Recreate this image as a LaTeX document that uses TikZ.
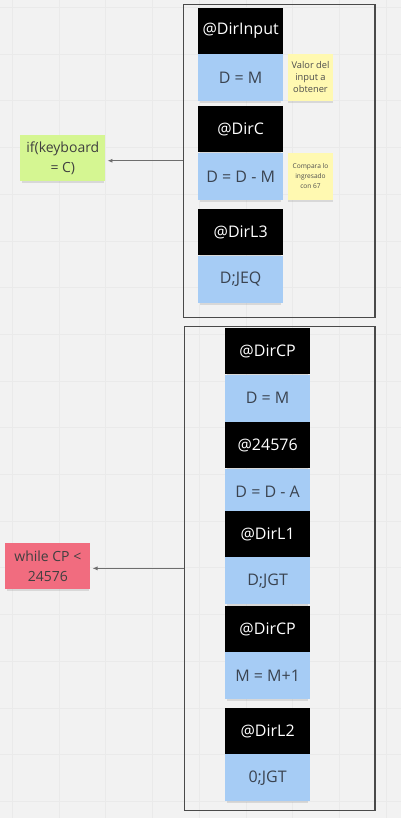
\documentclass[tikz,border=0pt]{standalone}
\usepackage{fontspec}
\setmainfont{Open Sans}
\usetikzlibrary{positioning, arrows.meta, shadows}
\definecolor{board}{HTML}{F2F2F2}
\definecolor{gridline}{HTML}{EAEAEA}
\definecolor{noteblue}{HTML}{A6CCF5}
\definecolor{noteyellow}{HTML}{FFF9B1}
\definecolor{notegreen}{HTML}{D5F692}
\definecolor{notered}{HTML}{F16C7F}
\definecolor{inktext}{HTML}{3A4350}
\definecolor{framegray}{HTML}{4A4A4A}
\definecolor{arrowgray}{HTML}{6E6E6E}

\begin{document}
\begin{tikzpicture}[x=1pt, y=-1pt,
  sticky/.style={inner sep=0pt, align=center, text=inktext,
    drop shadow={opacity=0.22, shadow xshift=0pt, shadow yshift=-3pt, shadow scale=0.96}},
  tag/.style={sticky, fill=black, text=white, minimum width=85pt, minimum height=46pt,
    font=\fontsize{16}{18}\selectfont},
  code/.style={sticky, fill=noteblue, minimum width=85pt, minimum height=47pt,
    font=\fontsize{16}{18}\selectfont},
  memo/.style={sticky, fill=noteyellow, text=black!70, minimum width=46pt, minimum height=47pt},
  cond/.style={sticky, text=black!75, minimum width=85pt, minimum height=46pt,
    font=\fontsize{14}{20}\selectfont},
  box/.style={draw=framegray, line width=1.1pt},
  link/.style={draw=arrowgray, line width=0.8pt, -{Latex[length=5pt,width=4pt]}, shorten >=2pt}]

  % board and grid
  \fill[board] (0,0) rectangle (401,818);
  \foreach \k in {0,...,8}{
    \draw[gridline, line width=0.8pt] ({12+46.75*\k},0) -- ({12+46.75*\k},818);
  };
  \foreach \k in {0,...,17}{
    \draw[gridline, line width=0.8pt] (0,{7+46.75*\k}) -- (401,{7+46.75*\k});
  };

  % frames
  \node[box, minimum width=192pt, minimum height=313pt] (frameA) at (279,160.5) {};
  \node[box, minimum width=191pt, minimum height=485pt] (frameB) at (279.5,568.5) {};

  % first frame
  \node[tag, anchor=north] (dirinput) at (240.5,7) {@DirInput};
  \node[code, below=0pt of dirinput] (loadm) {D = M};
  \node[tag, anchor=north] (dirc) at (240.5,106) {@DirC};
  \node[code, below=0pt of dirc] (subm) {D = D - M};
  \node[tag, anchor=north] (dirlthree) at (240.5,209) {@DirL3};
  \node[code, below=0pt of dirlthree] (jeq) {D;JEQ};
  \node[memo, right=4pt of loadm, font=\fontsize{9.3}{12}\selectfont] (memoinput) {Valor del\\input a\\obtener};
  \node[memo, right=4pt of subm, font=\fontsize{6.6}{10}\selectfont] (memocmp) {Compara lo\\ingresado\\con 67};

  % second frame
  \foreach \top/\name/\label/\op in {328/cpa/@DirCP/D = M, 422/max/@24576/D = D - A,
      511/dirlone/@DirL1/D;JGT, 606/cpb/@DirCP/M = M+1, 708/dirltwo/@DirL2/0;JGT}{
    \node[tag, anchor=north] (\name) at (267.5,\top) {\label};
    \node[code, below=0pt of \name] (\name op) {\op};
  };

  % conditions
  \node[cond, fill=notegreen] (ifkey) at (62.5,158) {if(keyboard\\= C)};
  \node[cond, fill=notered] (whilecp) at (47.5,566) {while CP <\\24576};
  \draw[link] (frameA.west) -- (frameA.west -| ifkey.east);
  \draw[link] (frameB.west) -- (frameB.west -| whilecp.east);
\end{tikzpicture}
\end{document}
